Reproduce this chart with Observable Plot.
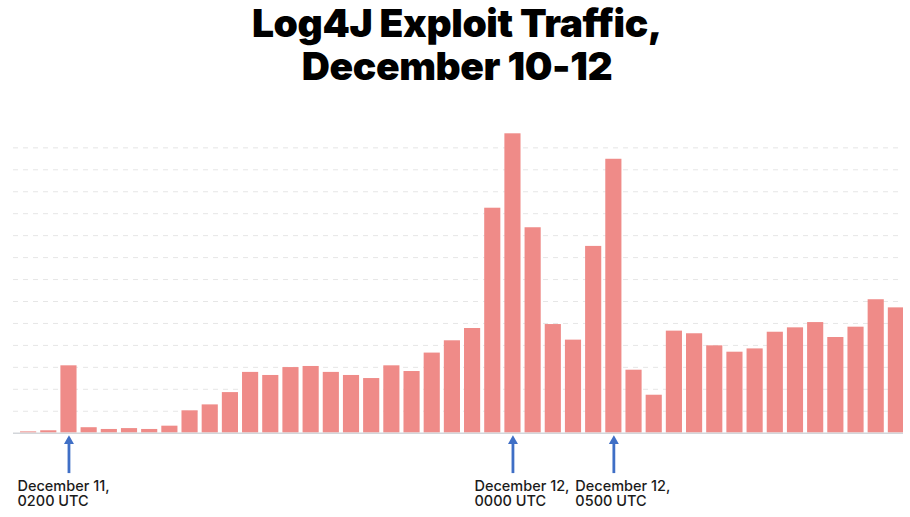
<!DOCTYPE html>
<html>
<head>
<meta charset="utf-8">
<script src="https://cdn.jsdelivr.net/npm/d3@7"></script>
<script src="https://cdn.jsdelivr.net/npm/@observablehq/plot@0.6"></script>
<style>
  html, body { margin: 0; padding: 0; background: #fff; }
  #wrap { width: 910px; height: 517px; overflow: hidden; }
  #title {
    height: 100px; margin: 0; text-align: center;
    font-family: Inter, Roboto, sans-serif; font-weight: 900;
    font-size: 39px; line-height: 43px; color: #000; letter-spacing: -0.4px;
    padding-left: 4px; padding-top: 1px; box-sizing: border-box;
  }
  svg { display: block; }
</style>
</head>
<body>
<div id="wrap">
  <div id="title">Log4J Exploit Traffic,<br>December 10-12</div>
  <div id="chart"></div>
</div>
<script>
// Hourly buckets (UTC)
const hours = [
  "Dec 11 00:00","Dec 11 01:00","Dec 11 02:00","Dec 11 03:00","Dec 11 04:00","Dec 11 05:00",
  "Dec 11 06:00","Dec 11 07:00","Dec 11 08:00","Dec 11 09:00","Dec 11 10:00","Dec 11 11:00",
  "Dec 11 12:00","Dec 11 13:00","Dec 11 14:00","Dec 11 15:00","Dec 11 16:00","Dec 11 17:00",
  "Dec 11 18:00","Dec 11 19:00","Dec 11 20:00","Dec 11 21:00","Dec 11 22:00","Dec 11 23:00",
  "Dec 12 00:00","Dec 12 01:00","Dec 12 02:00","Dec 12 03:00","Dec 12 04:00","Dec 12 05:00",
  "Dec 12 06:00","Dec 12 07:00","Dec 12 08:00","Dec 12 09:00","Dec 12 10:00","Dec 12 11:00",
  "Dec 12 12:00","Dec 12 13:00","Dec 12 14:00","Dec 12 15:00","Dec 12 16:00","Dec 12 17:00",
  "Dec 12 18:00","Dec 12 19:00"
];
// Relative traffic (units = one gridline step)
const traffic = [
  0.06, 0.11, 3.07, 0.25, 0.17, 0.21, 0.17, 0.32, 1.02, 1.29, 1.85, 2.77,
  2.63, 2.99, 3.04, 2.77, 2.63, 2.49, 3.07, 2.81, 3.65, 4.21, 4.77, 10.25,
  13.64, 9.36, 4.95, 4.24, 8.51, 12.48, 2.87, 1.73, 4.65, 4.53, 3.98, 3.69,
  3.84, 4.60, 4.80, 5.04, 4.36, 4.83, 6.08, 5.71
];
const gridValues = [1,2,3,4,5,6,7,8,9,10,11,12,13];
const annotationHours = ["Dec 11 02:00", "Dec 12 00:00", "Dec 12 05:00"];
const annotationLabels = ["December 11,\n0200 UTC", "December 12,\n0000 UTC", "December 12,\n0500 UTC"];

const data = hours.map((h, i) => ({hour: h, value: traffic[i]}));
const notes = annotationHours.map((h, i) => ({hour: h, label: annotationLabels[i]}));

const arrowColor = "#3f6fc6";
const textStyle = {
  fontFamily: "Inter, Roboto, sans-serif", fontSize: 14.5, fontWeight: 500,
  fill: "#1b1b1b", textAnchor: "start", lineAnchor: "top", lineHeight: 1.06
};

const chart = Plot.plot({
  width: 910,
  height: 417,
  marginLeft: 13,
  marginRight: 7,
  marginTop: 25.4,
  marginBottom: 84.3,
  x: {domain: hours, range: [16, 908], padding: 0.2, round: false, axis: null},
  y: {domain: [0, 14], axis: null},
  marks: [
    Plot.ruleY(gridValues, {stroke: "#e6e6e6", strokeWidth: 1, strokeDasharray: "5,5"}),
    Plot.barY(data, {x: "hour", y: "value", fill: "#ef8b88", clip: "frame"}),
    Plot.ruleY([0], {stroke: "#d3d6da", strokeWidth: 1.5}),
    Plot.ruleX(notes, {x: "hour", y1: -0.5, y2: -1.84, stroke: arrowColor, strokeWidth: 2.8}),
    Plot.dot(notes, {x: "hour", y: -0.36, symbol: "triangle", r: 3.7, fill: arrowColor}),
    Plot.text(notes.slice(0, 1), {x: "hour", y: -2.12, text: "label", dx: -51.5, ...textStyle}),
    Plot.text(notes.slice(1), {x: "hour", y: -2.12, text: "label", dx: -38.5, ...textStyle})
  ]
});
document.getElementById("chart").appendChild(chart);
</script>
</body>
</html>
